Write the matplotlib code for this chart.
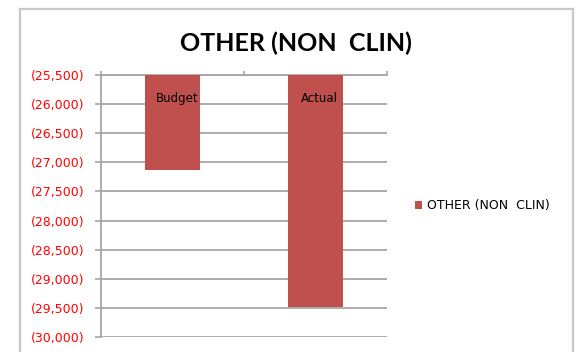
import matplotlib.pyplot as plt
from matplotlib.lines import Line2D
from matplotlib.ticker import FuncFormatter
import numpy as np

# budget vs actual, values hang down from the top of the axis
categories = ['Budget', 'Actual']
values = [-27130, -29490]
series_name = 'OTHER (NON  CLIN)'
y_ticks = np.arange(-30000, -25499, 500)

bar_color = '#C0504D'
grid_color = '#A6A6A6'

fig = plt.figure(figsize=(5.78, 3.52), dpi=100)
ax = fig.add_axes([0.1747, 0.0426, 0.4949, 0.7444])

top = y_ticks.max()
x = np.arange(len(categories))
bars = ax.bar(x, [v - top for v in values], bottom=top, width=0.385,
              color=bar_color, label=series_name, zorder=3)

# category names sit inside the bars near the top
for xi, name in zip(x, categories):
    ax.annotate(name, xy=(xi + 0.03, top), xytext=(0, -17), textcoords='offset points',
                ha='center', va='center', fontsize=8.5, color='black', zorder=4)

ax.set_xlim(-0.5, 1.5)
ax.set_ylim(y_ticks.min(), top)
ax.set_yticks(y_ticks)
ax.yaxis.set_major_formatter(FuncFormatter(lambda v, p: '({:,.0f})'.format(abs(v))))
ax.tick_params(axis='y', colors=grid_color, labelcolor='#FF0000', labelsize=9,
               length=4, width=1.2, pad=8)

ax.xaxis.tick_top()
ax.set_xticks([-0.5, 0.5, 1.5])
ax.set_xticklabels([])
ax.tick_params(axis='x', colors=grid_color, length=3, width=1.2)

ax.yaxis.grid(True, color=grid_color, linewidth=1.3, zorder=0)
ax.set_axisbelow(True)
for side in ['right', 'bottom']:
    ax.spines[side].set_visible(False)
for side in ['left', 'top']:
    ax.spines[side].set_color(grid_color)
    ax.spines[side].set_linewidth(1.3)

fig.text(0.512, 0.878, 'OTHER (NON  CLIN)', ha='center', va='center',
         fontsize=18, fontweight='bold', family='Lato')

leg = fig.legend(handles=[bars], loc='center left', bbox_to_anchor=(0.698, 0.415),
                 frameon=False, fontsize=9, handlelength=0.6, handleheight=0.6,
                 handletextpad=0.4)

# outer chart border
border = '#C8C8C8'
fig.add_artist(Line2D([0.0346, 0.0346], [0.0, 0.974], color=border, lw=1.6))
fig.add_artist(Line2D([0.0346, 0.9913], [0.974, 0.974], color=border, lw=1.6))
fig.add_artist(Line2D([0.9913, 0.9913], [0.0, 0.974], color=border, lw=1.6))

fig.savefig('out.png', dpi=100)
